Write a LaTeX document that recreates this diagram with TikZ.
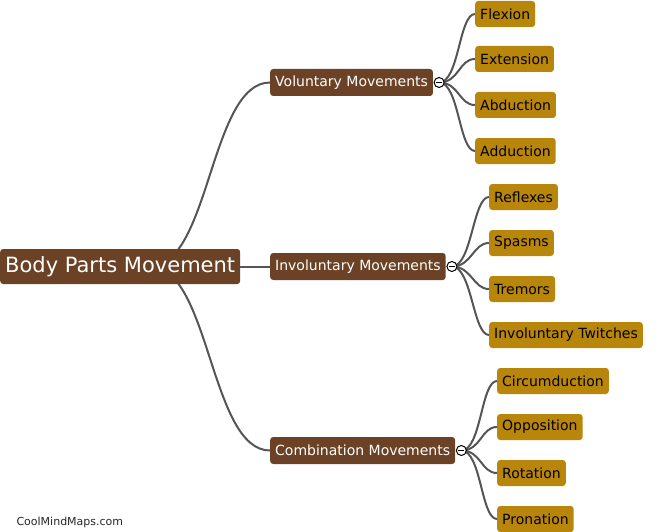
\documentclass[tikz,border=0pt]{standalone}
\usepackage{fontspec}
\setmainfont{DejaVu Sans}
\usetikzlibrary{backgrounds}
\definecolor{bark}{HTML}{6B4226}
\definecolor{ochre}{HTML}{B8860B}
\definecolor{wire}{HTML}{555555}

\begin{document}
\begin{tikzpicture}[x=1pt, y=-1pt,
        box/.style={rounded corners=3pt, inner xsep=5pt, inner ysep=0pt, anchor=west},
        rootbox/.style={box, fill=bark, text=white, minimum height=35pt, font=\fontsize{21}{25}\selectfont},
        branch/.style={box, fill=bark, text=white, minimum height=27pt, font=\fontsize{14}{17}\selectfont},
        leaf/.style={box, fill=ochre, text=black, minimum height=26pt, font=\fontsize{14}{17}\selectfont},
        knob/.style={circle, draw=black, fill=white, line width=1pt, inner sep=0pt, minimum size=10pt,
            path picture={\draw[line width=1pt] ([xshift=-3pt]path picture bounding box.center) -- ([xshift=3pt]path picture bounding box.center);}},
        link/.style={draw=wire, line width=2pt}]
        \useasboundingbox (0,0) rectangle (658,532);

        % centre and branches
        \node[rootbox] (root) at (0,266.5) {Body Parts Movement};
        \node[branch] (vol) at (270,82.5) {Voluntary Movements};
        \node[branch] (inv) at (270,266.5) {Involuntary Movements};
        \node[branch] (comb) at (270,450.5) {Combination Movements};
        \node[knob] (kvol) at ([xshift=6pt]vol.east) {};
        \node[knob] (kinv) at ([xshift=6pt]inv.east) {};
        \node[knob] (kcomb) at ([xshift=6pt]comb.east) {};

        % leaves
        \node[leaf] (flex) at (475,14) {Flexion};
        \node[leaf] (ext) at (475,59) {Extension};
        \node[leaf] (abd) at (475,105) {Abduction};
        \node[leaf] (add) at (475,151) {Adduction};

        \node[leaf] (refl) at (489,197) {Reflexes};
        \node[leaf] (spas) at (489,243) {Spasms};
        \node[leaf] (trem) at (489,289) {Tremors};
        \node[leaf] (twit) at (489,335) {Involuntary Twitches};

        \node[leaf] (circ) at (497,381) {Circumduction};
        \node[leaf] (oppo) at (497,427) {Opposition};
        \node[leaf] (rota) at (497,473) {Rotation};
        \node[leaf] (pron) at (497,519) {Pronation};

        \node[anchor=west, font=\fontsize{11}{13}\selectfont, text=black!85] (mark) at (13,522) {CoolMindMaps.com};

        \begin{scope}[on background layer]
            \coordinate (hub) at (150,266.5);
            \draw[link] (hub) .. controls +(60,0) and +(-60,0) .. (vol.west);
            \draw[link] (root.east) -- (inv.west);
            \draw[link] (hub) .. controls +(60,0) and +(-60,0) .. (comb.west);

            \foreach \leafname in {flex,ext,abd,add}
                \draw[link] (kvol.center) .. controls +(20,0) and +(-16,0) .. (\leafname.west);
            \foreach \leafname in {refl,spas,trem,twit}
                \draw[link] (kinv.center) .. controls +(20,0) and +(-16,0) .. (\leafname.west);
            \foreach \leafname in {circ,oppo,rota,pron}
                \draw[link] (kcomb.center) .. controls +(20,0) and +(-16,0) .. (\leafname.west);
        \end{scope}
    \end{tikzpicture}
\end{document}
